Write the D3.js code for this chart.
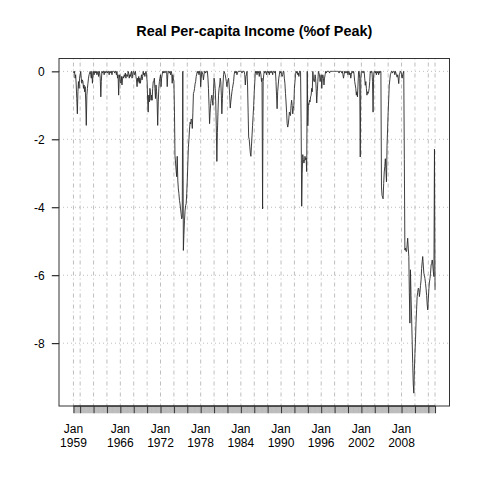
<!DOCTYPE html>
<html><head><meta charset="utf-8">
<script src="https://cdn.jsdelivr.net/npm/d3@7"></script>
<style>html,body{margin:0;padding:0;background:#fff;} svg{display:block;}</style>
</head><body>
<svg id="chart" width="480" height="480"></svg>
<script>
const title = "Real Per-capita Income (%of Peak)";
const startYear = 1959;
const monthLabel = "Jan";

const values1950s = [
  0, -0.05, 0, -0.2, -0.1, -0.4, -0.8, -1.25, -0.6, -0.3, -0.5, -0.2
];
const values1960s = [
  -0.1, 0, -0.2, -0.35, -0.25, -0.3, -0.5, -0.4, -0.6, -0.45, -0.9, -1.59,
  -0.7, -0.5, -0.35, -0.2, -0.1, -0.05, 0, -0.1, -0.2, 0, -0.35, -0.1,
  0, -0.1, 0, 0, -0.05, 0, -0.1, -0.05, 0, -0.15, 0, -0.05,
  -0.2, -0.75, -0.3, 0, -0.05, 0, 0, -0.1, 0, 0, -0.05, 0,
  0, -0.05, 0, 0, -0.1, 0, 0, -0.05, 0, -0.1, 0, 0,
  0, 0, -0.05, 0, 0, -0.1, 0, -0.2, -0.1, -0.7, -0.2, -0.1,
  -0.3, -0.35, -0.15, -0.4, -0.2, -0.15, -0.2, -0.1, -0.15, -0.05, -0.2, -0.1,
  -0.1, -0.15, 0, -0.05, -0.2, -0.1, -0.15, -0.05, 0, -0.2, -0.1, 0,
  0, -0.1, -0.05, 0, -0.15, -0.25, -0.45, -0.2, -0.3, -0.15, -0.35, -0.2,
  -0.35, -0.2, -0.1, -0.25, -0.15, 0, -0.1, -0.05, -0.15, -0.05, 0, -0.1
];
const values1970s = [
  -0.3, -0.9, -1.2, -0.7, -0.9, -0.5, -0.6, -0.85, -0.7, -0.85, -0.5, -0.3,
  -0.3, -0.2, -0.5, -0.8, -0.4, -0.6, -0.9, -1.59, -0.9, -0.5, -0.3, -0.2,
  -0.1, -0.45, -0.2, -0.1, 0, -0.05, 0, 0, -0.05, 0, 0, 0,
  -0.45, -0.1, 0, 0, -0.05, 0, -0.1, 0, -0.05, -0.35, -0.1, -0.2,
  -0.3, -1.2, -2.47, -2.7, -2.9, -3.1, -2.5, -3.2, -3.46, -3.6, -3.8, -3.9,
  -4.05, -4.2, -4.34, -4.3, 0, -5.27, -4.8, -4.4, -4.1, -3.95, -3.9, -3.6,
  -3.2, -2.7, -2.23, -2.0, -1.7, -1.5, -1.55, -1.4, -1.45, -1.68, -1.2, -0.65,
  -0.6, -0.5, -0.37, -0.3, -0.15, -0.08, 0, -0.05, 0, -0.1, 0, 0,
  -0.45, -0.2, 0, -0.05, -0.1, -0.25, -0.1, 0, 0, -0.05, 0, 0,
  0, -0.2, -0.5, -1.0, -1.54, -1.2, -0.95, -0.8, -0.7, -0.85, -1.0, -0.6
];
const values1980s = [
  -0.2, -0.3, -0.5, -0.9, -1.6, -2.65, -1.8, -1.2, -0.7, -0.5, -0.4, -0.2,
  -0.3, -0.7, -1.25, -0.8, -0.4, -0.1, 0, -0.05, -0.1, -0.2, -0.3, -0.45,
  -0.35, -0.25, -0.2, -0.4, -0.7, -1.08, -0.9, -0.75, -0.6, -0.5, -0.4, -0.3,
  -0.1, 0, 0, -0.05, 0, -0.1, -0.05, 0, 0, 0, 0, 0,
  0, 0, -0.05, 0, 0, 0, 0, -0.1, -0.4, -0.15, -0.1, 0,
  -0.4, -1.2, -1.93, -2.0, -2.2, -2.4, -2.5, -2.2, -1.9, -1.6, -1.3, -1.0,
  -0.6, -0.3, 0, -0.05, 0, -0.1, 0, -0.05, 0, -0.15, 0, 0,
  -0.1, -0.3, -0.2, -4.05, -0.3, -0.1, 0, -0.05, 0, 0, -0.1, 0,
  0, -0.05, 0, -0.1, 0, 0, -0.05, 0, 0, -0.1, 0, 0,
  0, -0.05, 0, -0.3, -0.7, -1.1, -0.6, -0.4, -0.2, -0.1, 0, -0.05
];
const values1990s = [
  0, -0.1, -0.15, -0.1, 0, 0, -0.2, -0.35, -0.65, -0.9, -1.2, -1.54,
  -1.64, -1.55, -1.4, -1.2, -1.25, -1.3, -1.0, -0.85, -1.0, -1.25, -1.1, -1.0,
  -0.5, -0.3, -0.1, 0, -0.05, 0, -0.1, -0.05, -0.15, 0, 0, 0,
  -1.5, -3.97, -3.0, -2.45, -2.6, -2.7, -2.65, -2.5, -2.6, -2.55, -2.95, 0,
  -1.6, -0.95, -0.98, -0.85, -0.9, -0.75, -0.7, -0.5, -0.6, 0, -0.2, -0.3,
  -0.3, -0.1, -0.2, -0.5, -0.93, -0.6, -0.3, 0, -0.05, -0.1, -0.3, -0.2,
  -0.1, -0.5, -0.2, -0.1, -0.2, -0.4, -0.2, -0.1, 0, -0.05, 0, 0,
  0, 0, 0, -0.05, 0, 0, 0, 0, 0, 0, 0, 0,
  0, 0, 0, 0, 0, 0, 0, 0, -0.05, 0, 0, 0,
  0, -0.05, 0, -0.1, -0.2, -0.1, 0, -0.05, 0, 0, -0.05, 0
];
const values2000s = [
  -0.1, 0, 0, -0.1, -0.05, -0.2, -0.1, 0, 0, -0.05, 0, -0.1,
  -0.3, -0.4, -0.5, -0.7, -0.6, -0.75, -0.4, 0, 0, -0.2, -2.52, -0.2,
  0, 0, 0, -0.05, 0, 0, -0.2, -0.41, -0.3, -0.5, -0.7, -0.6,
  -0.65, -0.6, -0.5, -0.3, 0, -0.05, 0, 0, -0.3, -1.2, -0.1, 0,
  0, -0.05, 0, -0.1, 0, -0.05, 0, -0.1, 0, -0.05, 0, 0,
  -3.4, -3.65, -3.7, -3.75, -3.3, -2.96, -2.8, -2.57, -2.9, -3.25, -2.18, -1.7,
  -1.2, -0.8, -0.41, -0.25, -0.1, -0.05, 0, 0, -0.05, 0, 0, 0,
  -0.1, 0, -0.05, -0.1, -0.17, -0.1, -0.2, -0.36, -0.1, -0.05, 0, 0,
  -0.1, -0.2, -0.1, -0.05, 0, -2.6, -5.26, -5.2, -5.3, -5.3, -5.1, -4.91,
  -5.2, -5.45, -6.5, -7.41, -5.84, -6.6, -7.2, -7.9, -8.6, -9.2, -9.47, -8.8
];
const values2010s = [
  -8.3, -7.9, -7.4, -7.0, -6.63, -6.5, -6.38, -6.4, -6.63, -6.5, -6.3, -6.14,
  -5.8, -5.6, -5.45, -5.7, -5.94, -6.0, -6.1, -6.24, -6.4, -6.6, -6.87, -7.02,
  -6.7, -6.4, -6.2, -6.1, -5.94, -5.7, -5.65, -5.55, -5.7, -5.9, -6.04, -2.29,
  -6.43
];
const yTicks = [0, -2, -4, -6, -8];
const labelYears = [1959, 1966, 1972, 1978, 1984, 1990, 1996, 2002, 2008];

const values = [].concat(values1950s, values1960s, values1970s, values1980s, values1990s, values2000s, values2010s);
const start = new Date(startYear, 0, 1);
const data = values.map((v, i) => ({ date: d3.timeMonth.offset(start, i), value: v }));

const L = 59, R = 449.5, T = 58.5, B = 406;
const first = data[0].date, last = data[data.length - 1].date;
const span = last - first;
const x = d3.scaleTime()
  .domain([new Date(+first - 0.04 * span), new Date(+last + 0.04 * span)])
  .range([L, R]);
const ext = d3.extent(values);
const yr = ext[1] - ext[0];
const y = d3.scaleLinear().domain([ext[0] - 0.04 * yr, ext[1] + 0.04 * yr]).range([B, T]);

const svg = d3.select("#chart");
const font = "'Liberation Sans', Arial, Helvetica, sans-serif";
svg.append("rect").attr("width", 480).attr("height", 480).attr("fill", "#fff");

// major tick dates: first obs, Jan of even years, last obs
const majorDates = [first].concat(d3.timeYear.every(2).range(first, last)).concat([last])
  .filter((d, i, a) => i === 0 || +d !== +a[i - 1]);

// vertical grid
svg.append("g").selectAll("line").data(majorDates).join("line")
  .attr("x1", d => x(d)).attr("x2", d => x(d))
  .attr("y1", T).attr("y2", B)
  .attr("stroke", "#BEBEBE").attr("stroke-width", 1)
  .attr("stroke-dasharray", "1,3,4,3");

// horizontal grid
svg.append("g").selectAll("line").data(yTicks).join("line")
  .attr("x1", L).attr("x2", R)
  .attr("y1", d => y(d)).attr("y2", d => y(d))
  .attr("stroke", "#BEBEBE").attr("stroke-width", 1)
  .attr("stroke-dasharray", "1,3");

// series
svg.append("path").datum(data)
  .attr("fill", "none").attr("stroke", "#2a2a2a").attr("stroke-width", 0.9)
  .attr("stroke-linejoin", "round")
  .attr("d", d3.line().x(d => x(d.date)).y(d => y(d.value)));

// minor ticks (every observation)
const minorAxis = svg.append("g").attr("transform", `translate(0,${B})`)
  .call(d3.axisBottom(x).tickValues(data.map(d => d.date)).tickSize(7.2).tickSizeOuter(0).tickFormat(""));
minorAxis.select(".domain").remove();
minorAxis.selectAll("line").attr("stroke", "#BBBBBB");

// major ticks
const majorAxis = svg.append("g").attr("transform", `translate(0,${B})`)
  .call(d3.axisBottom(x).tickValues(majorDates).tickSize(7.2).tickSizeOuter(0).tickFormat(""));
majorAxis.select(".domain").attr("d", `M${x(first)},0H${x(last)}`).attr("stroke", "#000");
majorAxis.selectAll("line").attr("stroke", "#333");

// x labels
const lab = svg.append("g").attr("font-family", font).attr("font-size", 12).attr("fill", "#000")
  .attr("text-anchor", "middle");
labelYears.forEach(yy => {
  const xd = x(new Date(yy, 0, 1));
  const t = lab.append("text").attr("x", xd);
  t.append("tspan").attr("x", xd).attr("y", 433.3).text(monthLabel);
  t.append("tspan").attr("x", xd).attr("y", 446.7).text(String(yy));
});

// y axis
const yAxis = svg.append("g").attr("transform", `translate(${L},0)`)
  .call(d3.axisLeft(y).tickValues(yTicks).tickSize(7.2).tickPadding(7.2).tickSizeOuter(0).tickFormat(d3.format("d")));
yAxis.select(".domain").remove();
yAxis.selectAll("line").attr("stroke", "#000");
yAxis.selectAll("text").attr("font-family", font).attr("font-size", 12).attr("fill", "#000")
  .text(d => d === 0 ? "0" : "-" + Math.abs(d));

// box
svg.append("rect").attr("x", L).attr("y", T).attr("width", R - L).attr("height", B - T)
  .attr("fill", "none").attr("stroke", "#333").attr("stroke-width", 1);

// title
svg.append("text").attr("x", (L + R) / 2).attr("y", 36)
  .attr("text-anchor", "middle").attr("font-family", font)
  .attr("font-size", 14.4).attr("font-weight", "bold").attr("fill", "#000")
  .text(title);
</script>
</body></html>
